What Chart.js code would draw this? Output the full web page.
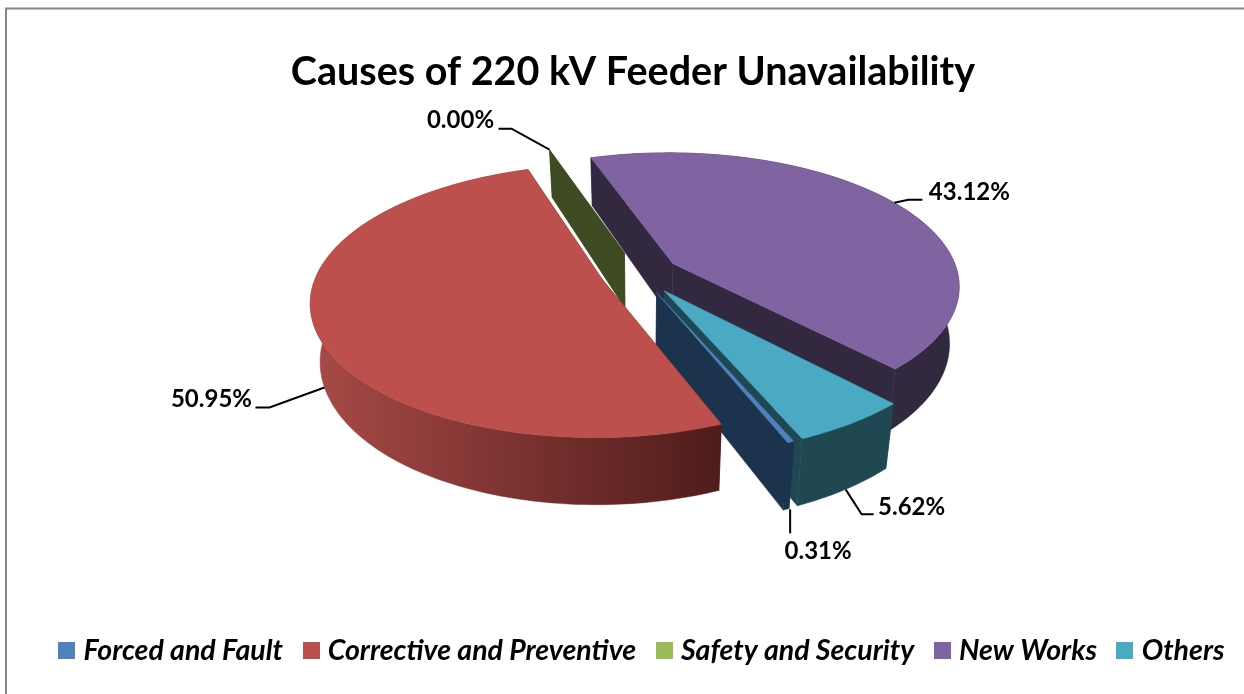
<!DOCTYPE html>
<html><head><meta charset="utf-8">
<script src="https://cdn.jsdelivr.net/npm/chart.js@4"></script>
<style>html,body{margin:0;padding:0;background:#fff}canvas{display:block}</style>
</head><body><canvas id="c" width="1244" height="694"></canvas>
<script>
const titleText = 'Causes of 220 kV Feeder Unavailability';
const categories = ['Forced and Fault','Corrective and Preventive','Safety and Security','New Works','Others'];
const values = [0.31,50.95,0.00,43.12,5.62];
const sliceColors = ['#4f81bd','#bd4f4c','#9bbb59','#8064a2','#4aaac4'];
const wallColors = ['#1c334d','#5a2220','#3f4b23','#322840','#1f4852'];
const explode = [45,39,47,40,45];

const view = {cx:639, cy:273, k:0.46, D:1800, h:56, inset:0.03};
const font = 'Lato, Carlito, sans-serif';

function proj(arc, px, py, z){
  const dx = px-arc.x, dy = py-arc.y;
  const s = 1/(1-dy/view.D);
  return [view.cx+dx*s*(1-view.inset*z/view.h), view.cy+view.k*dy*s+z*s];
}
function geom(arc){
  const off = arc.options.offset||0, mid=(arc.startAngle+arc.endAngle)/2;
  return {ax:arc.x+Math.cos(mid)*off, ay:arc.y+Math.sin(mid)*off, r:arc.outerRadius};
}
function rimPts(arc,g,z,from,to){
  const n=Math.max(2,Math.ceil(Math.abs(to-from)/0.02)), out=[];
  for(let i=0;i<=n;i++){const a=from+(to-from)*i/n; out.push(proj(arc,g.ax+Math.cos(a)*g.r,g.ay+Math.sin(a)*g.r,z));}
  return out;
}
function poly(ctx,pts,fill){
  ctx.beginPath(); pts.forEach((p,i)=>i?ctx.lineTo(p[0],p[1]):ctx.moveTo(p[0],p[1]));
  ctx.closePath(); ctx.fillStyle=fill; ctx.fill(); ctx.strokeStyle=fill; ctx.lineWidth=0.5; ctx.stroke();
}
const leaders = [
  {z:1, path:[[4,0],[4,24]], text:[32,42]},
  {z:1, path:[[0,0],[-55,20],[-69,20]],text:[-113,12]},
  {z:0, path:[[0,0],[-38,-21],[-51,-21]],text:[-89,-29]},
  {z:0, path:[[0,0],[14,-3],[28,-3]],text:[75,-11]},
  {z:1, path:[[0,0],[16,25],[28,25]],text:[66,18]}
];
const pie3d = {
  id:'pie3d',
  beforeDraw(chart){
    const c=chart.ctx; c.save(); c.strokeStyle='#868686'; c.lineWidth=2;
    c.beginPath(); c.moveTo(6,694); c.lineTo(6,8.5); c.lineTo(1244,8.5); c.stroke(); c.restore();
  },
  beforeDatasetsDraw(chart){
    const ctx=chart.ctx, arcs=chart.getDatasetMeta(0).data, h=view.h;
    ctx.save();
    [3,2,4,0,1].forEach(i=>{
      const a=arcs[i], g=geom(a), S=a.startAngle, E=a.endAngle;
      const ap0=proj(a,g.ax,g.ay,0), ap1=proj(a,g.ax,g.ay,h);
      [S,E].forEach(t=>{
        const p0=rimPts(a,g,0,t,t)[0], p1=rimPts(a,g,h,t,t)[0];
        poly(ctx,[ap0,p0,p1,ap1],wallColors[i]);
      });
      if(E>S){
        const top=rimPts(a,g,0,S,E), bot=rimPts(a,g,h,S,E);
        let fill=wallColors[i];
        if(i===1){
          const gr=ctx.createLinearGradient(310,0,722,0);
          gr.addColorStop(0,'#a84a47'); gr.addColorStop(1,'#4e1c1a'); fill=gr;
        }
        poly(ctx,top.concat(bot.slice().reverse()),fill);
        poly(ctx,[ap0].concat(top),sliceColors[i]);
      }
    });
    ctx.font='bold 24px '+font; ctx.fillStyle='#000'; ctx.strokeStyle='#000'; ctx.lineWidth=2;
    ctx.textAlign='center'; ctx.textBaseline='middle';
    arcs.forEach((a,i)=>{
      const g=geom(a), m=(a.startAngle+a.endAngle)/2, L=leaders[i];
      const p=rimPts(a,g,h*L.z,m,m)[0];
      ctx.beginPath(); L.path.forEach((o,j)=>j?ctx.lineTo(p[0]+o[0],p[1]+o[1]):ctx.moveTo(p[0]+o[0],p[1]+o[1])); ctx.stroke();
      ctx.fillText(values[i].toFixed(2)+'%',p[0]+L.text[0],p[1]+L.text[1]);
    });
    ctx.restore();
    return false;
  }
};
function swatch(col){const s=document.createElement('canvas');s.width=17;s.height=17;const x=s.getContext('2d');x.fillStyle=col;x.fillRect(0,0,17,17);return s;}
new Chart(document.getElementById('c'),{
  type:'pie',
  data:{labels:categories,datasets:[{data:values,backgroundColor:sliceColors,offset:explode,borderWidth:0,radius:285,rotation:157}]},
  options:{
    responsive:false,animation:false,
    layout:{padding:{top:49,bottom:19,left:16,right:-6}},
    plugins:{
      tooltip:{enabled:false},
      title:{display:true,text:titleText,color:'#000',font:{family:font,size:39.5,weight:'bold'},padding:{top:0,bottom:10}},
      legend:{position:'bottom',align:'end',labels:{
        color:'#000',font:{family:font,size:28.5,weight:'bold',style:'italic'},padding:25.5,usePointStyle:true,pointStyleWidth:5,boxHeight:17,
        generateLabels(chart){
          return Chart.controllers.pie.overrides.plugins.legend.labels.generateLabels(chart).map((l,i)=>Object.assign(l,{pointStyle:swatch(sliceColors[i]),lineWidth:0}));
        }
      }}
    }
  },
  plugins:[pie3d]
});
</script></body></html>
